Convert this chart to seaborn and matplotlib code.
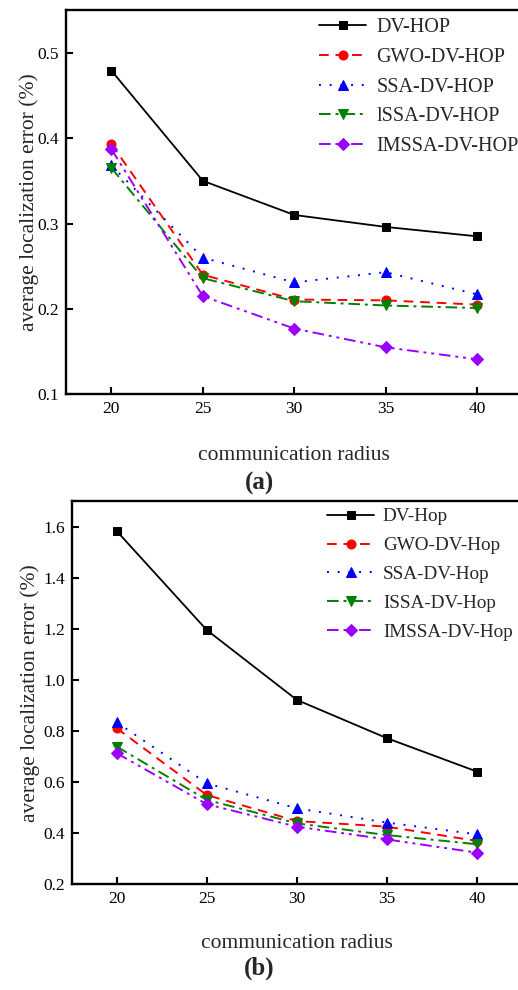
import matplotlib
matplotlib.use("Agg")
import matplotlib.pyplot as plt
import seaborn as sns
import numpy as np

sns.set_theme(style="white")
plt.rcParams['font.family'] = ['Liberation Serif', 'DejaVu Serif']

radius = [20, 25, 30, 35, 40]

# panel (a)
labels_a = ["DV-HOP", "GWO-DV-HOP", "SSA-DV-HOP", "lSSA-DV-HOP", "IMSSA-DV-HOP"]
dv_a = [0.479, 0.350, 0.310, 0.296, 0.285]
gwo_a = [0.393, 0.240, 0.211, 0.210, 0.205]
ssa_a = [0.368, 0.260, 0.231, 0.243, 0.217]
issa_a = [0.365, 0.236, 0.209, 0.204, 0.201]
imssa_a = [0.387, 0.215, 0.177, 0.155, 0.141]
yticks_a = [0.1, 0.2, 0.3, 0.4, 0.5]

# panel (b)
labels_b = ["DV-Hop", "GWO-DV-Hop", "SSA-DV-Hop", "ISSA-DV-Hop", "IMSSA-DV-Hop"]
dv_b = [1.585, 1.197, 0.923, 0.773, 0.642]
gwo_b = [0.812, 0.550, 0.448, 0.426, 0.370]
ssa_b = [0.835, 0.596, 0.498, 0.442, 0.396]
issa_b = [0.740, 0.531, 0.439, 0.393, 0.357]
imssa_b = [0.714, 0.514, 0.426, 0.376, 0.324]
yticks_b = [0.2, 0.4, 0.6, 0.8, 1.0, 1.2, 1.4, 1.6]

colors = ["black", "#ff0000", "#0000ff", "#008000", "#9900ff"]
markers = ["s", "o", "^", "v", "D"]
styles = ["-", (0, (5, 3.5)), (0, (1, 4.5)), (0, (6, 2.5, 1.5, 2.5)), (0, (6, 2.5, 1.5, 2.5, 1.5, 2.5))]
msizes = [6, 6.5, 7, 7, 6]

fig = plt.figure(figsize=(5.18, 9.9), dpi=100)
ax_a = fig.add_axes([65.7/518, 1-394.3/990, 457/518, (394.3-10)/990])
ax_b = fig.add_axes([71.7/518, 1-884.3/990, 450.3/518, (884.3-501)/990])

def draw(ax, series, labels, ylim, yticks, ylabel_x, leg_anchor, xpad, lfs, lsp, htp):
    for vals, lab, c, m, ls, ms in zip(series, labels, colors, markers, styles, msizes):
        sns.lineplot(x=radius, y=vals, ax=ax, color=c, marker=m, linestyle=ls,
                     markersize=ms, markeredgecolor=c, markerfacecolor=c,
                     linewidth=1.3 if c == "black" else 1.4, label=lab)
    ax.set_xlim(17.5, 42.5)
    ax.set_ylim(*ylim)
    ax.set_xticks(radius)
    ax.set_yticks(yticks)
    ax.set_yticklabels([f"{v:.1f}" for v in yticks])
    ax.tick_params(direction="in", length=5, width=1.5, labelsize=12.5, pad=5,
                   colors="black", bottom=True, left=True)
    for s in ax.spines.values():
        s.set_linewidth(1.7)
        s.set_color("black")
    ax.set_ylabel("average localization error (%)", fontsize=15.5)
    ax.yaxis.set_label_coords(ylabel_x, 0.5)
    ax.set_xlabel("communication radius", fontsize=15.5, labelpad=xpad)
    ax.legend(loc="upper left", frameon=False, fontsize=lfs, handlelength=2.35 * 14.5 / lfs,
              handletextpad=htp, labelspacing=lsp, borderpad=0, borderaxespad=0,
              bbox_to_anchor=leg_anchor)

draw(ax_a, [dv_a, gwo_a, ssa_a, issa_a, imssa_a], labels_a, (0.1, 0.55), yticks_a,
     -0.059, (0.554, 0.979), 21, 14.5, 0.53, 0.5)
draw(ax_b, [dv_b, gwo_b, ssa_b, issa_b, imssa_b], labels_b, (0.2, 1.703), yticks_b,
     -0.070, (0.567, 0.982), 19, 13.8, 0.6, 0.45)

fig.text(0.5, 1-483/990, "(a)", ha="center", va="center", fontsize=18, fontweight="bold")
fig.text(0.5, 1-968/990, "(b)", ha="center", va="center", fontsize=18, fontweight="bold")

fig.savefig("out.png", dpi=100)
